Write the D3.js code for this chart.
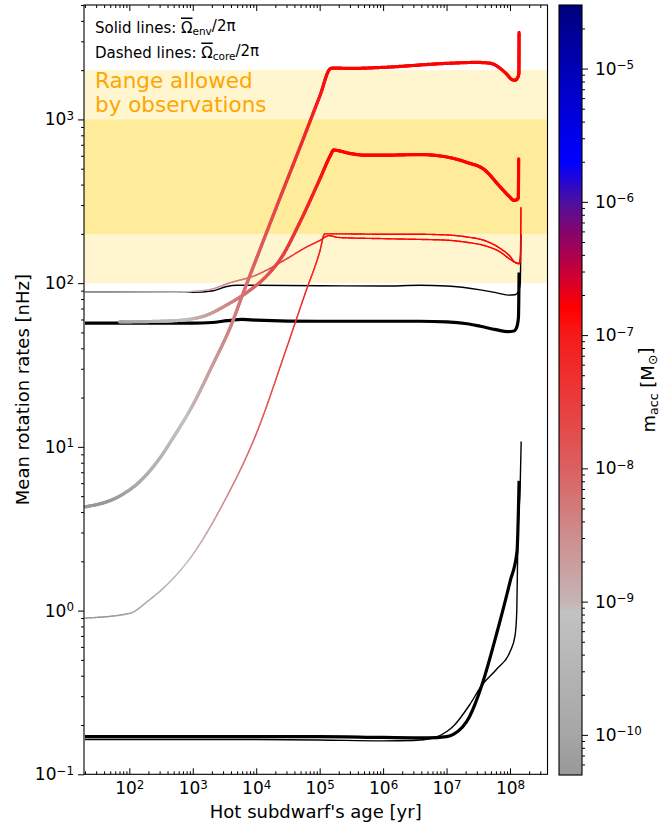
<!DOCTYPE html>
<html>
<head>
<meta charset="utf-8">
<script src="https://cdn.jsdelivr.net/npm/d3@7"></script>
<style>
body { margin: 0; background: #fff; }
svg { font-family: "DejaVu Sans", sans-serif; }
</style>
</head>
<body>
<svg id="chart" width="667" height="825"></svg>
<script>
// ---- data (age in yr, rotation in nHz) ----
// coloured tracks (colour = accreted mass at that age)
const ageA = [20, 70, 150, 300, 500, 1e3, 2e3, 4e3, 6.3e3, 1e4, 2e4, 5e4, 1e5, 1.5e5, 1.7e5, 3e5, 1e6, 1e7, 3e7, 5e7, 7e7, 9e7, 1.05e8, 1.2e8, 1.32e8, 1.38e8, 1.39e8];
const omegaA = [4.3, 5.0, 6.2, 8.5, 11.5, 18, 31, 55, 88, 140, 280, 690, 1380, 2050, 2060, 2050, 2080, 2200, 2230, 2200, 2050, 1880, 1760, 1735, 1800, 1900, 3400];

const ageB = [70, 300, 700, 1.7e3, 3.5e3, 7.2e3, 1.5e4, 2.4e4, 5e4, 1e5, 1.5e5, 1.65e5, 3e5, 5e5, 1e6, 3.8e6, 1e7, 2.1e7, 3.9e7, 6.9e7, 1e8, 1.15e8, 1.25e8, 1.35e8, 1.37e8];
const omegaB = [58, 58.5, 59.5, 64, 74, 88, 112, 140, 240, 430, 610, 650, 620, 605, 605, 610, 590, 546, 495, 390, 335, 320, 322, 330, 575];

const ageC = [20, 100, 200, 400, 1e3, 3e3, 1e4, 3e4, 6e4, 1e5, 1.2e5, 2e5, 1e6, 3e6, 1e7, 2e7, 4.3e7, 7e7, 1e8, 1.2e8, 1.4e8, 1.46e8, 1.49e8];
const omegaC = [0.9, 0.96, 1.15, 1.45, 2.2, 4.5, 12, 40, 88, 155, 200, 200, 199, 199, 197, 192, 180, 163, 146, 134, 132, 150, 290];

const ageD = [20, 500, 1e3, 2e3, 3.7e3, 1e4, 2.6e4, 6e4, 1e5, 1.4e5, 2e5, 1e6, 3.8e6, 1e7, 2e7, 4.3e7, 7e7, 1e8, 1.2e8, 1.4e8, 1.47e8];
const omegaD = [88, 88, 89, 92, 100, 112, 136, 165, 182, 195, 190, 187, 185, 183, 178, 168, 155, 140, 134, 131, 140];

// black tracks
const ageE = [20, 1e3, 2e3, 3.5e3, 6e3, 1e4, 1e5, 1e6, 3.8e6, 1e7, 2.1e7, 3.4e7, 6e7, 9.3e7, 1.15e8, 1.28e8, 1.36e8, 1.39e8];
const omegaE = [57, 57, 57.5, 59, 60, 59.5, 58.5, 58.5, 58.5, 58, 56.5, 54.5, 52, 50.6, 51, 54, 62, 116];

const ageF = [20, 1e3, 2e3, 3.3e3, 5e3, 1e4, 1e5, 1e6, 3.8e6, 1e7, 3.4e7, 6e7, 9.3e7, 1.2e8, 1.35e8, 1.45e8, 1.49e8];
const omegaF = [88, 88, 89.5, 95, 97, 97, 96.5, 96, 97, 96, 91, 87.5, 84.5, 85, 88, 100, 199];

const ageG = [20, 1e3, 1e5, 1e6, 5e6, 1e7, 1.3e7, 2.3e7, 3.6e7, 6.2e7, 1e8, 1.29e8, 1.39e8];
const omegaG = [0.17, 0.17, 0.17, 0.168, 0.167, 0.17, 0.176, 0.225, 0.35, 0.73, 1.5, 2.3, 6.2];

const ageH = [20, 1e4, 1e5, 1e6, 3e6, 6e6, 1e7, 1.3e7, 2.3e7, 3.6e7, 6.2e7, 1e8, 1.2e8, 1.28e8, 1.33e8, 1.45e8, 1.5e8];
const omegaH = [0.163, 0.163, 0.162, 0.16, 0.161, 0.166, 0.182, 0.198, 0.265, 0.35, 0.44, 0.56, 0.7, 1.0, 2.7, 6, 10.8];

// accreted mass history (Msun)
const accAge = [20, 100, 1e3, 1e4, 1e5, 1.5e5, 2e8];
const accMass = [2e-11, 1e-10, 1e-9, 1e-8, 1e-7, 1.5e-7, 1.5e-7];

// observed range bands (nHz)
const bandOuter = [100, 2000];
const bandInner = [200, 1000];

// ticks
const xTicks = [1e2, 1e3, 1e4, 1e5, 1e6, 1e7, 1e8];
const yTicks = [1e-1, 1e0, 1e1, 1e2, 1e3];
const cTicks = [1e-10, 1e-9, 1e-8, 1e-7, 1e-6, 1e-5];

// colormap stops (log10 of accreted mass)
const cmapStops = [-10.31, -10, -9.5, -9.08, -9.0, -8.5, -8, -7.5, -7, -6.8, -6.5, -6.25, -6, -5.7, -5, -4.53];
const cmapColors = ['#989898', '#a6a6a6', '#b5b5b5', '#c2c2c2', '#c6b3b3', '#ce8d8d', '#db6060', '#e93c3c', '#f71a1a', '#ff0000', '#c2003e', '#8a0468', '#4c10a0', '#0000ff', '#0000b6', '#00007c'];

// ---- setup ----
const svg = d3.select('#chart');
const plot = { left: 84, right: 547.5, top: 5, bottom: 774.3 };
const cbar = { left: 559, right: 582, top: 5, bottom: 775 };

const x = d3.scaleLog().domain([19.3, 3.9e8]).range([plot.left, plot.right]);
const y = d3.scaleLog().domain([0.1, 5000]).range([plot.bottom, plot.top]);
const c = d3.scaleLog().domain([5e-11, 3e-5]).range([cbar.bottom, cbar.top]);

const cmap = d3.scaleLinear().domain(cmapStops).range(cmapColors).clamp(true);
const accScale = d3.scaleLog().domain(accAge).range(accMass.map(Math.log10)).clamp(true);

function minorTicks(lo, hi) {
  const out = [];
  for (let e = Math.floor(Math.log10(lo)); e <= Math.ceil(Math.log10(hi)); e++) {
    for (let k = 2; k <= 9; k++) {
      const v = k * Math.pow(10, e);
      if (v >= lo && v <= hi) out.push(v);
    }
  }
  return out;
}

// write 10^n as real text with a superscript
function powLabel(sel) {
  sel.each(function (d) {
    const t = d3.select(this);
    const e = Math.round(Math.log10(d));
    t.text(null);
    t.append('tspan').text('10');
    t.append('tspan').attr('dy', '-0.45em').attr('font-size', '0.7em')
      .text(e < 0 ? '\u2212' + (-e) : String(e));
  });
}

// ---- bands ----
svg.append('rect')
  .attr('x', plot.left).attr('width', plot.right - plot.left)
  .attr('y', y(bandOuter[1])).attr('height', y(bandOuter[0]) - y(bandOuter[1]))
  .attr('fill', '#fff6cf');
svg.append('rect')
  .attr('x', plot.left).attr('width', plot.right - plot.left)
  .attr('y', y(bandInner[1])).attr('height', y(bandInner[0]) - y(bandInner[1]))
  .attr('fill', '#ffec9a');

// ---- lines ----
svg.append('clipPath').attr('id', 'clip').append('rect')
  .attr('x', plot.left).attr('y', plot.top)
  .attr('width', plot.right - plot.left).attr('height', plot.bottom - plot.top);

const gLines = svg.append('g').attr('clip-path', 'url(#clip)');
const line = d3.line().x(d => x(d[0])).y(d => y(d[1])).curve(d3.curveMonotoneX);

function drawBlack(ages, omegas, w) {
  gLines.append('path')
    .attr('d', line(ages.map((a, i) => [a, omegas[i]])))
    .attr('fill', 'none').attr('stroke', '#000').attr('stroke-width', w)
    .attr('stroke-linejoin', 'round');
}

// colour each small piece of the track by the accreted mass at its age
function drawColored(ages, omegas, w) {
  const p = gLines.append('path')
    .attr('d', line(ages.map((a, i) => [a, omegas[i]])))
    .attr('fill', 'none').attr('stroke', 'none');
  const node = p.node();
  const L = node.getTotalLength();
  const step = 1.5;
  let prev = node.getPointAtLength(0);
  const g = gLines.append('g');
  for (let s = step; s < L + step; s += step) {
    const cur = node.getPointAtLength(Math.min(s, L));
    const age = x.invert((prev.x + cur.x) / 2);
    g.append('line')
      .attr('x1', prev.x).attr('y1', prev.y).attr('x2', cur.x).attr('y2', cur.y)
      .attr('stroke', cmap(accScale(age)))
      .attr('stroke-width', w).attr('stroke-linecap', 'round');
    prev = cur;
  }
  p.remove();
}

drawBlack(ageE, omegaE, 3.2);
drawBlack(ageF, omegaF, 1.4);
drawBlack(ageG, omegaG, 3.2);
drawBlack(ageH, omegaH, 1.4);

drawColored(ageC, omegaC, 1.4);
drawColored(ageD, omegaD, 1.4);
drawColored(ageB, omegaB, 3.2);
drawColored(ageA, omegaA, 3.2);

// ---- axes ----
const xMinor = minorTicks(x.domain()[0], x.domain()[1]);
const yMinor = minorTicks(y.domain()[0], y.domain()[1]);
const cMinor = minorTicks(c.domain()[0], c.domain()[1]);

const axisFont = g => g.attr('font-family', '"DejaVu Sans", sans-serif').attr('font-size', 17);

// bottom (ticks inward)
svg.append('g').attr('transform', `translate(0,${plot.bottom})`)
  .call(d3.axisBottom(x).tickValues(xMinor).tickSize(-3).tickFormat(''))
  .call(g => g.select('.domain').remove());
svg.append('g').attr('transform', `translate(0,${plot.bottom})`)
  .call(d3.axisBottom(x).tickValues(xTicks).tickSize(-6).tickPadding(8))
  .call(axisFont)
  .call(g => g.select('.domain').remove())
  .call(g => g.selectAll('text').attr('fill', '#000').call(powLabel));
// top (ticks inward, no labels)
svg.append('g').attr('transform', `translate(0,${plot.top})`)
  .call(d3.axisTop(x).tickValues(xMinor).tickSize(-3).tickFormat(''))
  .call(g => g.select('.domain').remove());
svg.append('g').attr('transform', `translate(0,${plot.top})`)
  .call(d3.axisTop(x).tickValues(xTicks).tickSize(-6).tickFormat(''))
  .call(g => g.select('.domain').remove());

// left (ticks outward)
svg.append('g').attr('transform', `translate(${plot.left},0)`)
  .call(d3.axisLeft(y).tickValues(yMinor).tickSize(3).tickFormat(''))
  .call(g => g.select('.domain').remove());
svg.append('g').attr('transform', `translate(${plot.left},0)`)
  .call(d3.axisLeft(y).tickValues(yTicks).tickSize(6).tickPadding(4))
  .call(axisFont)
  .call(g => g.select('.domain').remove())
  .call(g => g.selectAll('text').attr('fill', '#000').call(powLabel));

// frame
svg.append('rect')
  .attr('x', plot.left).attr('y', plot.top)
  .attr('width', plot.right - plot.left).attr('height', plot.bottom - plot.top)
  .attr('fill', 'none').attr('stroke', '#000').attr('stroke-width', 1.1);

// axis titles
svg.append('text')
  .attr('x', (plot.left + plot.right) / 2).attr('y', 818)
  .attr('text-anchor', 'middle').attr('font-size', 18)
  .text("Hot subdwarf's age [yr]");
svg.append('text')
  .attr('transform', `translate(29,${(plot.top + plot.bottom) / 2}) rotate(-90)`)
  .attr('text-anchor', 'middle').attr('font-size', 18)
  .text('Mean rotation rates [nHz]');

// ---- annotations ----
function omegaText(yPos, pre, sub) {
  const t = svg.append('text').attr('x', 95).attr('y', yPos).attr('font-size', 15);
  t.append('tspan').text(pre);
  t.append('tspan').attr('text-decoration', 'overline').text('\u03A9');
  t.append('tspan').attr('dy', '0.25em').attr('font-size', '0.7em').text(sub);
  t.append('tspan').attr('dy', '-0.25em').text('/2\u03C0');
}
omegaText(32.5, 'Solid lines: ', 'env');
omegaText(57.5, 'Dashed lines: ', 'core');

svg.append('text').attr('x', 95).attr('y', 88.3)
  .attr('font-size', 21.5).attr('fill', '#ffa500').text('Range allowed');
svg.append('text').attr('x', 95).attr('y', 111.7)
  .attr('font-size', 21.5).attr('fill', '#ffa500').text('by observations');

// ---- colourbar ----
const gC = svg.append('g');
for (let py = cbar.top; py < cbar.bottom; py += 1) {
  gC.append('rect')
    .attr('x', cbar.left).attr('y', py)
    .attr('width', cbar.right - cbar.left).attr('height', 1.2)
    .attr('fill', cmap(Math.log10(c.invert(py + 0.5))));
}
svg.append('rect')
  .attr('x', cbar.left).attr('y', cbar.top)
  .attr('width', cbar.right - cbar.left).attr('height', cbar.bottom - cbar.top)
  .attr('fill', 'none').attr('stroke', '#000').attr('stroke-width', 1.1);

svg.append('g').attr('transform', `translate(${cbar.right},0)`)
  .call(d3.axisRight(c).tickValues(cMinor).tickSize(3).tickFormat(''))
  .call(g => g.select('.domain').remove());
svg.append('g').attr('transform', `translate(${cbar.right},0)`)
  .call(d3.axisRight(c).tickValues(cTicks).tickSize(6).tickPadding(7))
  .call(axisFont)
  .call(g => g.select('.domain').remove())
  .call(g => g.selectAll('text').attr('fill', '#000').call(powLabel));

const cl = svg.append('text')
  .attr('transform', `translate(655,${(cbar.top + cbar.bottom) / 2}) rotate(-90)`)
  .attr('text-anchor', 'middle').attr('font-size', 18);
cl.append('tspan').text('m');
cl.append('tspan').attr('dy', '0.25em').attr('font-size', '0.7em').text('acc');
cl.append('tspan').attr('dy', '-0.25em').text(' [M');
cl.append('tspan').attr('dy', '0.25em').attr('font-size', '0.7em').text('\u2299');
cl.append('tspan').attr('dy', '-0.25em').text(']');
</script>
</body>
</html>
